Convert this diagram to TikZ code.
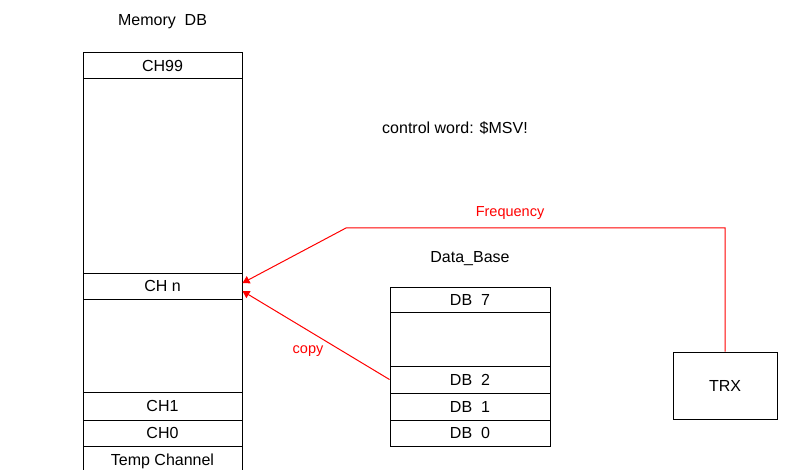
\documentclass[tikz,border=0pt]{standalone}
\usepackage{fontspec}
\setmainfont{Liberation Sans}
\usetikzlibrary{arrows.meta}

\begin{document}
\begin{tikzpicture}[x=1pt, y=-1pt, >={Triangle[length=7pt,width=8pt]},
    cell/.style={draw, line width=1pt, inner sep=0pt, minimum width=159pt, font=\fontsize{16}{19}\selectfont},
    txt/.style={font=\fontsize{16}{19}\selectfont},
    redtxt/.style={red, font=\fontsize{14.5}{17}\selectfont},
    link/.style={red, line width=1pt}]
    \clip (0,0) rectangle (797,470);
    \fill[white] (0,0) rectangle (797,470);
    % memory column
    \node[txt] (memlbl) at (162.5,22) {Memory~~DB};
    \node[cell, minimum height=26pt] (ch99) at (162.5,66) {CH99};
    \node[cell, minimum height=194pt] (gapa) at (162.5,176) {};
    \node[cell, minimum height=26pt] (chn) at (162.5,286) {CH n};
    \node[cell, minimum height=93pt] (gapb) at (162.5,345.5) {};
    \node[cell, minimum height=28pt] (ch1) at (162.5,406) {CH1};
    \node[cell, minimum height=26pt] (ch0) at (162.5,433) {CH0};
    \node[cell, minimum height=30pt] (temp) at (162.5,461) {Temp Channel};
    % data base column
    \node[txt] (dblbl) at (470,259) {Data\_Base};
    \node[cell, minimum width=160pt, minimum height=25pt] (db7) at (470,299.5) {DB~~7};
    \node[cell, minimum width=160pt, minimum height=54pt] (gapc) at (470,339) {};
    \node[cell, minimum width=160pt, minimum height=27pt] (db2) at (470,379.5) {DB~~2};
    \node[cell, minimum width=160pt, minimum height=27pt] (db1) at (470,406.5) {DB~~1};
    \node[cell, minimum width=160pt, minimum height=26pt] (db0) at (470,433) {DB~~0};
    % transceiver
    \node[cell, minimum width=104pt, minimum height=67pt] (trx) at (725,385.5) {TRX};
    \node[txt] (ctrl) at (455,128) {control word: \$MSV!};
    % links
    \coordinate (bend) at (346,228);
    \draw[link, ->] (trx.north) |- (bend) -- ([yshift=3pt]chn.east);
    \draw[link, ->] (db2.west) -- ([yshift=-5pt]chn.east);
    \node[redtxt] (freq) at (510,213) {Frequency};
    \node[redtxt] (copy) at (308,351) {copy};
\end{tikzpicture}
\end{document}
